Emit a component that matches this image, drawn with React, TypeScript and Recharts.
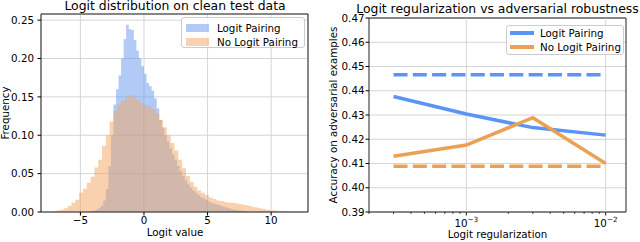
import React from "react";
import {
  Area,
  CartesianGrid,
  ComposedChart,
  Legend,
  Line,
  LineChart,
  ReferenceArea,
  ReferenceLine,
  XAxis,
  YAxis,
} from "recharts";

// Histogram of logits, Logit Pairing (blue), bins of 0.2 starting at -4.2
const lpBinStart = -4.2;
const lpBinWidth = 0.2;
const lpFreq = [
  0.001, 0.002, 0.003, 0.005, 0.008, 0.015, 0.03, 0.06, 0.1, 0.14,
  0.16, 0.178, 0.2, 0.225, 0.244, 0.238, 0.237, 0.224, 0.21, 0.2,
  0.19, 0.18, 0.168, 0.164, 0.158, 0.148, 0.135, 0.12, 0.11, 0.1,
  0.092, 0.083, 0.075, 0.068, 0.06, 0.053, 0.047, 0.041, 0.036, 0.032,
  0.028, 0.025, 0.022, 0.02, 0.018, 0.016, 0.014, 0.012, 0.011, 0.01,
  0.009, 0.008, 0.007, 0.006, 0.005, 0.004, 0.003, 0.003, 0.002, 0.002,
  0.001, 0.001,
];

// No Logit Pairing (orange), bins of 0.3 starting at -7.2
const nlpBinStart = -7.2;
const nlpBinWidth = 0.3;
const nlpFreq = [
  0.001, 0.002, 0.003, 0.005, 0.008, 0.012, 0.016, 0.025, 0.03, 0.038,
  0.046, 0.058, 0.068, 0.086, 0.1, 0.118, 0.132, 0.14, 0.145, 0.148,
  0.152, 0.15, 0.146, 0.142, 0.139, 0.137, 0.134, 0.129, 0.12, 0.11,
  0.1, 0.09, 0.08, 0.068, 0.057, 0.047, 0.039, 0.033, 0.028, 0.025,
  0.022, 0.019, 0.017, 0.015, 0.014, 0.013, 0.012, 0.012, 0.011, 0.01,
  0.009, 0.008, 0.007, 0.006, 0.005, 0.004, 0.003, 0.002, 0.002, 0.001,
  0.001, 0.0005,
];

const histXTicks = [-5, 0, 5, 10];
const histYTicks = [0, 0.05, 0.1, 0.15, 0.2, 0.25];

// Logit regularization sweep
const regStrengths = [3e-4, 1e-3, 3e-3, 1e-2];
const lpAccuracy = [0.4376, 0.4304, 0.4248, 0.4217];
const nlpAccuracy = [0.413, 0.4176, 0.4289, 0.41];
const lpBaseline = 0.4466;
const nlpBaseline = 0.4089;
const accTicks = [0.39, 0.4, 0.41, 0.42, 0.43, 0.44, 0.45, 0.46, 0.47];
const regTicks = [
  2e-4, 3e-4, 4e-4, 5e-4, 6e-4, 7e-4, 8e-4, 9e-4, 1e-3,
  2e-3, 3e-3, 4e-3, 5e-3, 6e-3, 7e-3, 8e-3, 9e-3, 1e-2,
];

const FONT = "DejaVu Sans";
const BLUE_FILL = "#6495ED";
const ORANGE_FILL = "#F4A460";
const BLUE_LINE = "#5a95f5";
const ORANGE_LINE = "#eba155";
const GRID = "#d0d0d0";
const FRAME = "#222";

function toSteps(start: number, width: number, values: number[]) {
  const pts = values.map((y, i) => ({ x: start + i * width, y }));
  pts.push({ x: start + values.length * width, y: values[values.length - 1] });
  return pts;
}

const lpHist = toSteps(lpBinStart, lpBinWidth, lpFreq);
const nlpHist = toSteps(nlpBinStart, nlpBinWidth, nlpFreq);

const sweep = regStrengths.map((x, i) => ({
  x,
  lp: lpAccuracy[i],
  nlp: nlpAccuracy[i],
  lpBase: lpBaseline,
  nlpBase: nlpBaseline,
}));

const minus = (v: number | string) => String(v).replace("-", "\u2212");
const tickStyle = { fontSize: 10.3, fill: "#000", fontFamily: FONT };

function HistLegend() {
  const row = (top: number, color: string, label: string) => (
    <div style={{ position: "absolute", left: 0, top, height: 14, width: "100%" }}>
      <div
        style={{
          position: "absolute", left: 4, top: 3, width: 23, height: 8,
          background: color, opacity: 0.5,
        }}
      />
      <span style={{ position: "absolute", left: 35, top: 0, lineHeight: "14px" }}>{label}</span>
    </div>
  );
  return (
    <div
      style={{
        position: "relative", width: 124, height: 31, boxSizing: "border-box",
        border: "1px solid #ccc", borderRadius: 3, background: "rgba(255,255,255,0.8)",
        fontFamily: FONT, fontSize: 10.3, color: "#000", whiteSpace: "nowrap",
      }}
    >
      {row(3, BLUE_FILL, "Logit Pairing")}
      {row(17, ORANGE_FILL, "No Logit Pairing")}
    </div>
  );
}

function SweepLegend() {
  const row = (top: number, color: string, label: string) => (
    <div style={{ position: "absolute", left: 0, top, height: 14, width: "100%" }}>
      <div
        style={{
          position: "absolute", left: 3, top: 5.25, width: 24, height: 3.5, background: color,
        }}
      />
      <span style={{ position: "absolute", left: 33, top: 0, lineHeight: "14px" }}>{label}</span>
    </div>
  );
  return (
    <div
      style={{
        position: "relative", width: 118, height: 30, boxSizing: "border-box",
        border: "1px solid #ccc", borderRadius: 3, background: "rgba(255,255,255,0.8)",
        fontFamily: FONT, fontSize: 10.3, color: "#000", whiteSpace: "nowrap",
      }}
    >
      {row(0, BLUE_LINE, "Logit Pairing")}
      {row(14, ORANGE_LINE, "No Logit Pairing")}
    </div>
  );
}

function LogTick(props: any) {
  const { x, y, payload } = props;
  const exp = Math.log10(payload.value);
  const major = Math.abs(exp - Math.round(exp)) < 1e-6;
  return (
    <g>
      <line
        x1={x} x2={x} y1={y} y2={y + (major ? 3.5 : 2)}
        stroke="#000" strokeWidth={major ? 0.9 : 0.7}
      />
      {major && (
        <text x={x} y={y + 14.8} textAnchor="middle" fontFamily={FONT} fontSize={10.3} fill="#000">
          <tspan>10</tspan>
          <tspan dy={-4.6} fontSize={7.2}>{minus(Math.round(exp))}</tspan>
        </text>
      )}
    </g>
  );
}

function HistChart() {
  return (
    <ComposedChart width={320} height={242} margin={{ top: 14, right: 12, bottom: 0, left: 0 }}>
      <CartesianGrid stroke={GRID} strokeWidth={0.9} />
      <XAxis
        dataKey="x" type="number" domain={[-8.1, 12.9]} allowDataOverflow
        ticks={histXTicks} interval={0} tickFormatter={minus}
        height={30} axisLine={false} tickSize={3.5} tickMargin={1.5}
        tickLine={{ stroke: "#000" }} tick={tickStyle}
      />
      <YAxis
        type="number" domain={[0, 0.258]} allowDataOverflow ticks={histYTicks} interval={0}
        tickFormatter={(v: number) => v.toFixed(2)} width={41} axisLine={false}
        tickSize={3.5} tickMargin={3.5} tickLine={{ stroke: "#000" }} tick={tickStyle}
      />
      <Area
        data={lpHist} dataKey="y" type="stepAfter" stroke="none" fill={BLUE_FILL}
        fillOpacity={0.5} isAnimationActive={false} dot={false} activeDot={false}
      />
      <Area
        data={nlpHist} dataKey="y" type="stepAfter" stroke="none" fill={ORANGE_FILL}
        fillOpacity={0.5} isAnimationActive={false} dot={false} activeDot={false}
      />
      <ReferenceArea x1={-8.1} x2={12.9} y1={0} y2={0.258} fill="none" stroke={FRAME} strokeWidth={1} />
      <Legend
        layout="vertical" align="center" verticalAlign="middle"
        content={() => <HistLegend />}
        wrapperStyle={{ left: 181, top: 17, width: 124, height: 31 }}
      />
    </ComposedChart>
  );
}

function SweepChart() {
  return (
    <LineChart width={320} height={242} data={sweep} margin={{ top: 18, right: 14, bottom: 0, left: 0 }}>
      <CartesianGrid stroke={GRID} strokeWidth={0.9} vertical={false} />
      <ReferenceLine x={1e-3} stroke={GRID} strokeWidth={0.9} />
      <ReferenceLine x={1e-2} stroke={GRID} strokeWidth={0.9} />
      <XAxis
        dataKey="x" type="number" scale="log" domain={[2e-4, 1.4e-2]} allowDataOverflow
        ticks={regTicks} interval={0} height={30} axisLine={false}
        tickLine={false} tickSize={0} tickMargin={0} tick={<LogTick />}
      />
      <YAxis
        type="number" domain={[0.39, 0.47]} allowDataOverflow ticks={accTicks} interval={0}
        tickFormatter={(v: number) => v.toFixed(2)} width={49} axisLine={false}
        tickSize={3.5} tickMargin={1} tickLine={{ stroke: "#000" }} tick={tickStyle}
      />
      <Line dataKey="lp" stroke={BLUE_LINE} strokeWidth={3.5} dot={false} activeDot={false} isAnimationActive={false} />
      <Line dataKey="nlp" stroke={ORANGE_LINE} strokeWidth={3.5} dot={false} activeDot={false} isAnimationActive={false} />
      <Line
        dataKey="lpBase" stroke={BLUE_LINE} strokeWidth={3.5} strokeDasharray="14 5.3"
        dot={false} activeDot={false} isAnimationActive={false}
      />
      <Line
        dataKey="nlpBase" stroke={ORANGE_LINE} strokeWidth={3.5} strokeDasharray="14 5.3"
        dot={false} activeDot={false} isAnimationActive={false}
      />
      <ReferenceArea x1={2e-4} x2={1.4e-2} y1={0.39} y2={0.47} fill="none" stroke={FRAME} strokeWidth={1} />
      <Legend
        layout="vertical" align="center" verticalAlign="middle"
        content={() => <SweepLegend />}
        wrapperStyle={{ left: 186, top: 25, width: 118, height: 30 }}
      />
    </LineChart>
  );
}

export default function App() {
  const label = { fontFamily: FONT, fontSize: 10.3, fill: "#000", textAnchor: "middle" as const };
  const title = { fontFamily: FONT, fontSize: 12.4, fill: "#000", textAnchor: "middle" as const };
  return (
    <div style={{ position: "absolute", left: 0, top: 0, width: 640, height: 242, background: "#fff" }}>
      <div style={{ position: "absolute", left: 0, top: 0 }}>
        <HistChart />
      </div>
      <div style={{ position: "absolute", left: 320, top: 0 }}>
        <SweepChart />
      </div>
      <svg
        width={640} height={242}
        style={{ position: "absolute", left: 0, top: 0, pointerEvents: "none", overflow: "visible" }}
      >
        <text x={175} y={9.6} {...title}>Logit distribution on clean test data</text>
        <text x={497.5} y={13} {...title}>Logit regularization vs adversarial robustness</text>
        <text transform="translate(8.5,113) rotate(-90)" {...label}>Frequency</text>
        <text transform="translate(337,115) rotate(-90)" {...label}>Accuracy on adversarial examples</text>
        <text x={175} y={235.5} {...label}>Logit value</text>
        <text x={497.5} y={237.5} {...label}>Logit regularization</text>
      </svg>
    </div>
  );
}
